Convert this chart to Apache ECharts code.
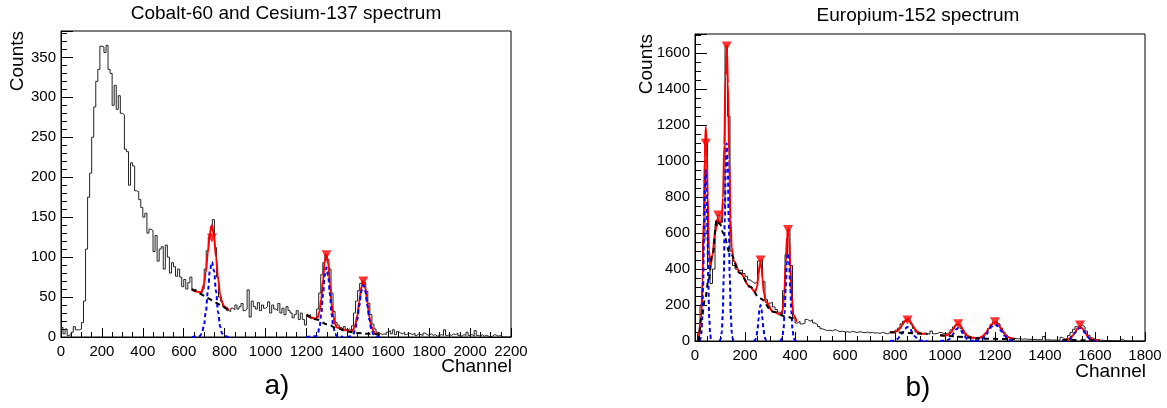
<!DOCTYPE html>
<html>
<head>
<meta charset="utf-8">
<script src="https://cdn.jsdelivr.net/npm/echarts@6/dist/echarts.min.js"></script>
<style>
  html, body { margin: 0; padding: 0; background: #fff; }
  #main { width: 1167px; height: 408px; }
</style>
</head>
<body>
<div id="main"></div>
<script>
// a) Cobalt-60 + Cesium-137, counts per 10 channel bin from channel 0
const coCsBin = 10;
const coCsCounts = [
  12, 4, 10, 2, 3, 6, 13, 9, 9, 10,
  18, 45, 110, 175, 205, 250, 288, 320, 335, 364,
  363, 356, 365, 335, 330, 290, 315, 285, 302, 280,
  278, 235, 232, 190, 218, 214, 183, 182, 172, 162,
  150, 155, 130, 135, 133, 107, 127, 95, 110, 113,
  85, 115, 100, 80, 93, 88, 76, 85, 75, 63,
  72, 60, 68, 75, 58, 60, 57, 55, 55, 60,
  85, 108, 125, 138, 147, 112, 75, 50, 45, 38,
  37, 33, 32, 36, 34, 40, 35, 38, 42, 33,
  35, 59, 25, 45, 38, 35, 43, 33, 40, 36,
  38, 44, 30, 40, 35, 33, 42, 30, 36, 28,
  38, 33, 30, 24, 28, 33, 22, 30, 22, 15,
  26, 28, 23, 22, 22, 35, 55, 78, 93, 103,
  97, 85, 55, 32, 18, 15, 12, 10, 13, 9,
  10, 8, 14, 30, 45, 58, 67, 70, 68, 57,
  42, 28, 16, 10, 6, 5, 3, 4, 3, 6,
  8, 4, 9, 3, 7, 5, 4, 6, 3, 5,
  4, 3, 5, 2, 4, 3, 2, 5, 3, 2,
  4, 2, 3, 1, 2, 3, 2, 9, 2, 3,
  2, 4, 3, 5, 2, 1, 3, 2, 6, 2,
  3, 1, 8, 2, 1, 3, 1, 2, 1, 0,
  1, 3, 2, 1, 2, 0, 0, 0, 0, 0
];
// fit curves: [channel, counts]
const coCsFit1 = [[640,60],[660,57],[678,56],[688,57],[698,65],[708,81],[718,106],[728,130],[738,140],[748,127],[758,100],[768,73],[778,53],[788,43],[798,38],[820,34]];
const coCsBg1 = [[640,60],[820,34]];
const coCsGaus1 = [[640,0],[678,1],[688,4],[698,13],[708,31],[718,57],[728,83],[738,94],[748,83],[758,57],[768,31],[778,13],[788,4],[798,1],[820,0]];
const coCsFit2 = [[1200,28],[1230,24],[1247,23],[1255,25],[1264,32],[1272,47],[1281,71],[1289,94],[1298,103],[1306,92],[1315,67],[1323,41],[1332,25],[1340,16],[1349,12],[1380,9],[1418,7],[1428,9],[1438,15],[1448,26],[1458,44],[1468,62],[1478,70],[1488,61],[1498,43],[1508,25],[1518,13],[1528,7],[1538,4],[1560,3]];
const coCsBg2 = [[1200,28],[1250,22],[1300,16],[1350,11],[1400,7],[1450,5],[1500,4],[1560,3]];
const coCsGaus2 = [[1200,0],[1247,1],[1255,4],[1264,12],[1272,28],[1281,53],[1289,77],[1298,87],[1306,77],[1315,53],[1323,28],[1332,12],[1340,4],[1349,1],[1380,0]];
const coCsGaus3 = [[1400,0],[1418,1],[1428,3],[1438,9],[1448,21],[1458,39],[1468,57],[1478,65],[1488,57],[1498,39],[1508,21],[1518,9],[1528,3],[1538,1],[1560,0]];
const coCsPeaks = [[738,124],[1298,103],[1478,70]];

// b) Europium-152, counts per 10 channel bin from channel 0
const euBin = 10;
const euCounts = [
  0, 40, 200, 560, 1100, 420, 320, 400, 640, 700,
  660, 760, 1640, 1250, 500, 420, 400, 390, 395, 375,
  360, 340, 330, 320, 330, 445, 455, 330, 230, 210,
  215, 190, 175, 160, 150, 280, 480, 620, 420, 130,
  100, 110, 95, 100, 120, 110, 118, 100, 92, 80,
  68, 62, 58, 60, 56, 64, 58, 52, 55, 50,
  52, 48, 54, 50, 47, 52, 48, 46, 50, 45,
  48, 44, 46, 42, 48, 44, 40, 46, 52, 48,
  60, 72, 95, 110, 112, 125, 95, 70, 50, 45,
  40, 44, 42, 38, 55, 40, 42, 48, 45, 40,
  42, 48, 62, 78, 90, 92, 70, 45, 30, 22,
  18, 15, 16, 17, 20, 28, 45, 70, 92, 105,
  108, 95, 72, 50, 32, 20, 15, 14, 12, 13,
  10, 12, 9, 10, 8, 9, 7, 8, 6, 25,
  7, 6, 5, 6, 4, 5, 20, 10, 15, 30,
  48, 65, 80, 85, 88, 78, 55, 32, 18, 10,
  6, 4, 5, 3, 2, 3, 2, 2, 1, 3,
  10, 1, 1, 0, 0, 0, 0, 0, 0, 0
];
const euFitA = [[15,0],[25,135],[30,336],[35,690],[39,1020],[43,1190],[47,1080],[51,800],[56,506],[61,415],[70,480],[80,600],[90,680],[100,652],[107,673],[112,795],[117,1089],[122,1470],[127,1645],[132,1430],[137,1009],[142,677],[147,518],[155,445],[180,378],[220,302],[240,273],[248,299],[254,369],[258,419],[262,437],[266,408],[270,348],[276,263],[284,215],[313,163],[340,148],[350,167],[357,261],[363,434],[368,579],[372,623],[376,575],[381,425],[387,246],[394,143],[407,107]];
const euBgA = [[15,0],[27,135],[40,230],[53,330],[70,480],[87,673],[100,650],[113,599],[140,489],[180,378],[220,302],[260,237],[313,163],[367,135],[407,107]];
const euGaus1 = [[19,0],[22,10],[25.5,42],[29,128],[32.5,309],[36,577],[39.5,838],[43,950],[46.5,838],[50,577],[53.5,309],[57,128],[60.5,42],[64,10],[67,0]];
const euGaus2 = [[99,0],[103,12],[107,48],[111,149],[115,358],[119,668],[123,970],[127,1100],[131,970],[135,668],[139,358],[143,149],[147,48],[151,12],[155,0]];
const euGaus3 = [[234,0],[238,2],[242,9],[246,27],[250,65],[254,121],[258,176],[262,200],[266,176],[270,121],[274,65],[278,27],[282,9],[286,2],[290,0]];
const euGaus4 = [[340,0],[345,5],[349.5,22],[354,66],[358.5,159],[363,297],[367.5,432],[372,490],[376.5,432],[381,297],[385.5,159],[390,66],[394.5,22],[399,5],[404,0]];
const euFitB = [[780,49],[790,48],[800,50],[810,56],[820,70],[830,92],[840,113],[850,121],[860,111],[870,88],[880,66],[890,51],[900,44],[910,41],[930,39]];
const euBgB = [[780,49],[930,39]];
const euGaus5 = [[780,0],[790,1],[800,3],[810,11],[820,25],[830,47],[840,69],[850,78],[860,69],[870,47],[880,25],[890,11],[900,3],[910,1],[930,0]];
const euFitC = [[980,32],[999,31],[1008,32],[1017,38],[1026,50],[1035,70],[1044,89],[1053,96],[1062,87],[1071,66],[1080,44],[1089,30],[1098,22],[1107,19],[1130,15]];
const euBgC = [[980,32],[1130,15]];
const euGaus6 = [[980,0],[999,1],[1008,3],[1017,10],[1026,23],[1035,44],[1044,64],[1053,72],[1062,64],[1071,44],[1080,23],[1089,10],[1098,3],[1107,1],[1130,0]];
const euFitD = [[1120,14],[1137.5,18],[1150,26],[1162.5,43],[1175,69],[1187.5,95],[1200,106],[1212.5,94],[1225,68],[1237.5,41],[1250,24],[1262.5,15],[1280,11]];
const euBgD = [[1120,14],[1280,10]];
const euGaus7 = [[1120,0],[1125,1],[1137.5,4],[1150,13],[1162.5,30],[1175,56],[1187.5,82],[1200,93],[1212.5,82],[1225,56],[1237.5,30],[1250,13],[1262.5,4],[1275,1],[1280,0]];
const euFitE = [[1470,6],[1480,7],[1490,8],[1500,15],[1510,29],[1520,50],[1530,70],[1540,79],[1550,70],[1560,49],[1570,28],[1580,14],[1590,7],[1600,5],[1620,3]];
const euBgE = [[1470,6],[1620,3]];
const euGaus8 = [[1470,0],[1480,1],[1490,3],[1500,10],[1510,24],[1520,45],[1530,65],[1540,74],[1550,65],[1560,45],[1570,24],[1580,10],[1590,3],[1600,1],[1620,0]];
const euPeaks = [[43,1100],[93,700],[127,1640],[262,450],[372,620],[850,117],[1053,96],[1200,107],[1540,89]];

const FONT = '"Liberation Sans", Arial, Helvetica, sans-serif';

// histogram outline: low bin edges, step drawn to the next edge
function histPoints(counts, bw) {
  const pts = counts.map((c, i) => [i * bw, c]);
  pts.push([counts.length * bw, counts[counts.length - 1]]);
  return pts;
}

function hist(data, idx) {
  return { type: 'line', step: 'end', xAxisIndex: idx, yAxisIndex: idx, data: data,
    symbol: 'none', lineStyle: { color: '#222', width: 1 }, z: 2 };
}
function fit(data, idx) {
  return { type: 'line', smooth: 0.4, smoothMonotone: 'x', xAxisIndex: idx, yAxisIndex: idx, data: data,
    symbol: 'none', lineStyle: { color: '#ff0000', width: 2 }, z: 3 };
}
function gaus(data, idx) {
  return { type: 'line', smooth: 0.4, smoothMonotone: 'x', xAxisIndex: idx, yAxisIndex: idx, data: data,
    symbol: 'none', lineStyle: { color: '#0000ff', width: 2, type: [4, 3] }, z: 4 };
}
function bkg(data, idx) {
  return { type: 'line', smooth: 0.4, smoothMonotone: 'x', xAxisIndex: idx, yAxisIndex: idx, data: data,
    symbol: 'none', lineStyle: { color: '#000', width: 2, type: [5, 4] }, z: 4 };
}
function peaks(data, idx) {
  return { type: 'scatter', xAxisIndex: idx, yAxisIndex: idx, data: data,
    symbol: 'triangle', symbolRotate: 180, symbolSize: [10, 9],
    itemStyle: { color: '#ff0000' }, z: 5 };
}

const plain = v => String(v);

function xAx(idx, max) {
  return {
    type: 'value', gridIndex: idx, min: 0, max: max, interval: 200,
    axisLine: { show: true, lineStyle: { color: '#000', width: 1 } },
    axisTick: { show: true, inside: true, length: 9, lineStyle: { color: '#000' } },
    minorTick: { show: true, splitNumber: 4, length: 5, lineStyle: { color: '#000' } },
    splitLine: { show: false },
    axisLabel: { color: '#000', fontSize: 15, fontFamily: FONT, margin: 7, formatter: plain,
      showMinLabel: true, showMaxLabel: true, hideOverlap: false }
  };
}
function yAx(idx, max, step, minor) {
  return {
    type: 'value', gridIndex: idx, min: 0, max: max, interval: step,
    axisLine: { show: true, lineStyle: { color: '#000', width: 1 } },
    axisTick: { show: true, inside: true, length: 12, lineStyle: { color: '#000' } },
    minorTick: { show: true, splitNumber: minor, length: 6, lineStyle: { color: '#000' } },
    splitLine: { show: false },
    axisLabel: { color: '#000', fontSize: 15, fontFamily: FONT, margin: 5, formatter: plain, showMaxLabel: false }
  };
}

function txt(str, x, y, size, align, rot) {
  return { type: 'text', x: x, y: y, rotation: rot || 0,
    style: { text: str, font: size + 'px ' + FONT, fill: '#000',
      align: align, textAlign: align, verticalAlign: 'middle', textVerticalAlign: 'middle' } };
}

const chart = echarts.init(document.getElementById('main'), null, { renderer: 'canvas' });
chart.setOption({
  animation: false,
  backgroundColor: '#fff',
  grid: [
    { left: 61, top: 31, width: 450, height: 306, show: true, borderColor: '#000', borderWidth: 1, backgroundColor: 'transparent' },
    { left: 695, top: 34, width: 450, height: 307, show: true, borderColor: '#000', borderWidth: 1, backgroundColor: 'transparent' }
  ],
  xAxis: [xAx(0, 2200), xAx(1, 1800)],
  yAxis: [yAx(0, 383, 50, 5), yAx(1, 1707, 200, 4)],
  graphic: [
    txt('Cobalt-60 and Cesium-137 spectrum', 286, 14, 19, 'center'),
    txt('Europium-152 spectrum', 918, 16, 19, 'center'),
    txt('Counts', 18, 31, 19, 'right', Math.PI / 2),
    txt('Counts', 647, 34, 19, 'right', Math.PI / 2),
    txt('Channel', 512, 367, 19, 'right'),
    txt('Channel', 1146, 372, 19, 'right'),
    txt('a)', 277, 386, 28, 'center'),
    txt('b)', 918, 388, 28, 'center')
  ],
  series: [
    hist(histPoints(coCsCounts, coCsBin), 0),
    fit(coCsFit1, 0), fit(coCsFit2, 0),
    gaus(coCsGaus1, 0), gaus(coCsGaus2, 0), gaus(coCsGaus3, 0),
    bkg(coCsBg1, 0), bkg(coCsBg2, 0),
    peaks(coCsPeaks, 0),
    hist(histPoints(euCounts, euBin), 1),
    fit(euFitA, 1), fit(euFitB, 1), fit(euFitC, 1), fit(euFitD, 1), fit(euFitE, 1),
    gaus(euGaus1, 1), gaus(euGaus2, 1), gaus(euGaus3, 1), gaus(euGaus4, 1),
    gaus(euGaus5, 1), gaus(euGaus6, 1), gaus(euGaus7, 1), gaus(euGaus8, 1),
    bkg(euBgA, 1), bkg(euBgB, 1), bkg(euBgC, 1), bkg(euBgD, 1), bkg(euBgE, 1),
    peaks(euPeaks, 1)
  ]
});
</script>
</body>
</html>
